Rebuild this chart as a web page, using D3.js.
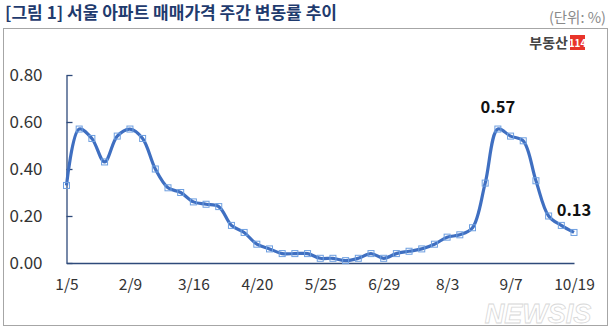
<!DOCTYPE html>
<html>
<head>
<meta charset="utf-8">
<script src="https://cdn.jsdelivr.net/npm/d3@7"></script>
<style>
  html, body { margin: 0; padding: 0; background: #fff; }
  svg { display: block; }
  text { font-family: "Noto Sans CJK KR", "Noto Sans", sans-serif; }
</style>
</head>
<body>
<svg id="chart" width="612" height="332"></svg>
<script>
// ---- data ----
const weeks = ["1/5","1/12","1/19","1/26","2/2","2/9","2/16","2/23","3/2","3/9",
  "3/16","3/23","3/30","4/6","4/13","4/20","4/27","5/4","5/11","5/18",
  "5/25","6/1","6/8","6/15","6/22","6/29","7/6","7/13","7/20","7/27",
  "8/3","8/10","8/17","8/24","8/31","9/7","9/14","9/21","10/5","10/12","10/19"];
const changeRate = [0.33,0.57,0.53,0.43,0.54,0.57,0.53,0.40,0.32,0.30,
  0.26,0.25,0.24,0.16,0.13,0.08,0.06,0.04,0.04,0.04,
  0.02,0.02,0.01,0.02,0.04,0.02,0.04,0.05,0.06,0.08,
  0.11,0.12,0.15,0.34,0.57,0.54,0.52,0.35,0.20,0.16,0.13];
const xTickLabels = ["1/5","2/9","3/16","4/20","5/25","6/29","8/3","9/7","10/19"];
const yTickValues = [0, 0.2, 0.4, 0.6, 0.8];
const annotated = ["8/31","10/19"];

const svg = d3.select("#chart");

// frame
svg.append("rect").attr("x",3.5).attr("y",28.5).attr("width",604).attr("height",297)
  .attr("fill","#fff").attr("stroke","#a6a6a6").attr("stroke-width",1);

// title
svg.append("text").attr("x",5).attr("y",19)
  .attr("font-size",17).attr("font-weight","bold").attr("fill","#1f3b6e")
  .attr("textLength",332).attr("lengthAdjust","spacingAndGlyphs")
  .text("[그림 1] 서울 아파트 매매가격 주간 변동률 추이");
svg.append("text").attr("x",606).attr("y",23).attr("text-anchor","end")
  .attr("font-size",14.5).attr("fill","#8a8a8a").text("(단위: %)");

// logo
svg.append("text").attr("x",568).attr("y",48).attr("text-anchor","end")
  .attr("font-size",14).attr("font-weight","bold").attr("fill","#444").text("부동산");
svg.append("rect").attr("x",570).attr("y",35).attr("width",15).attr("height",15).attr("fill","#e8342a");
svg.append("text").attr("x",577.5).attr("y",47).attr("text-anchor","middle")
  .attr("font-size",10).attr("font-weight","bold").attr("fill","#fff").text("114");

// scales
const x = d3.scalePoint().domain(weeks).range([66.5, 574]);
const y = d3.scaleLinear().domain([0, 0.8]).range([263, 75]);

const axisColor = "#2e4a7a";

// y axis
const yAxis = svg.append("g").attr("transform","translate(66.5,0)")
  .call(d3.axisLeft(y).tickValues(yTickValues).tickFormat(d3.format(".2f"))
    .tickSizeInner(-6).tickSizeOuter(0).tickPadding(24));
yAxis.select(".domain").attr("stroke",axisColor).attr("stroke-width",1.3);
yAxis.selectAll(".tick line").attr("stroke",axisColor).attr("stroke-width",1.3);
yAxis.selectAll(".tick text").attr("font-size",17).attr("fill","#333")
  .style("font-family","'Noto Sans CJK KR', sans-serif");

// x axis
const xAxis = svg.append("g").attr("transform","translate(0,263)")
  .call(d3.axisBottom(x).tickValues(xTickLabels).tickSize(0).tickPadding(16).tickSizeOuter(0));
xAxis.select(".domain").attr("stroke",axisColor).attr("stroke-width",1.3);
xAxis.selectAll(".tick text").attr("font-size",15.5).attr("fill","#333")
  .style("font-family","'Noto Sans CJK KR', sans-serif");

// line
const line = d3.line().x((d,i)=>x(weeks[i])).y(d=>y(d)).curve(d3.curveCatmullRom.alpha(0.5));
svg.append("path").datum(changeRate).attr("d",line)
  .attr("fill","none").attr("stroke","#3f6fc1").attr("stroke-width",3.2)
  .attr("stroke-linejoin","round");

// markers
svg.append("g").selectAll("rect").data(changeRate).join("rect")
  .attr("x",(d,i)=>x(weeks[i])-3).attr("y",d=>y(d)-3)
  .attr("width",6).attr("height",6)
  .attr("fill","none").attr("stroke","#6e9fe0").attr("stroke-width",1);

// annotations
annotated.forEach(w=>{
  const i = weeks.indexOf(w);
  svg.append("text").attr("x",x(w)).attr("y",y(changeRate[i])-16)
    .attr("text-anchor","middle").attr("font-size",16.5).attr("font-weight","bold").attr("fill","#111")
    .text(d3.format(".2f")(changeRate[i]));
});

// watermark
svg.append("text").attr("x",538).attr("y",323).attr("text-anchor","middle")
  .attr("font-size",27).attr("font-weight","bold").attr("font-style","italic")
  .attr("fill","#ffffff").attr("fill-opacity",0.9).attr("stroke","#d8d8d8").attr("stroke-width",0.8)
  .style("font-family","'Liberation Sans', sans-serif")
  .text("NEWSIS");
</script>
</body>
</html>
